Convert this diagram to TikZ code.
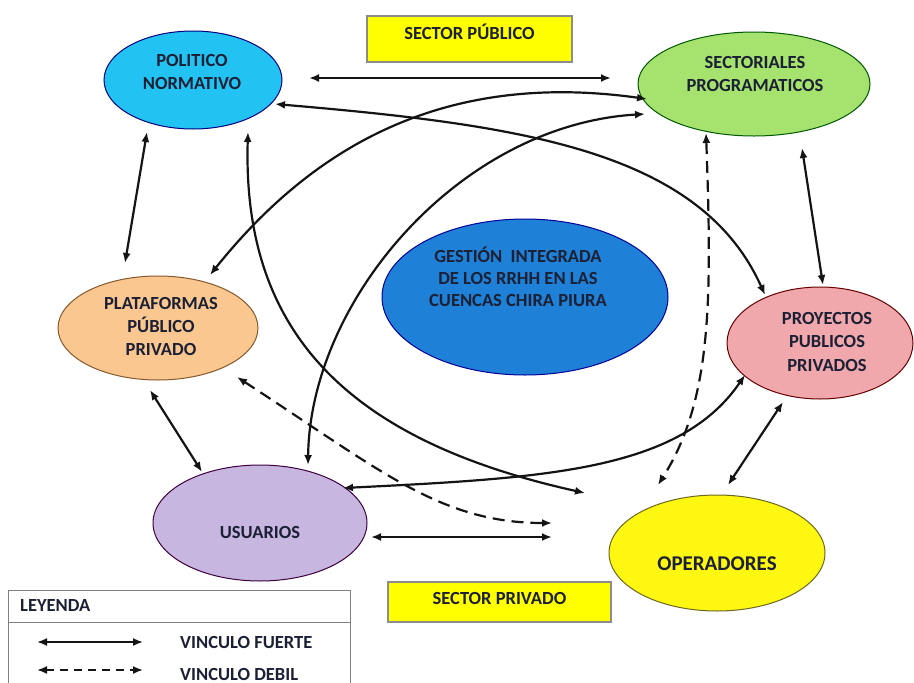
\documentclass[tikz,border=0pt]{standalone}
\usepackage{fontspec}
\setmainfont{Carlito}
\usetikzlibrary{shapes.geometric,arrows.meta}
\definecolor{txt}{RGB}{28,32,52}
\definecolor{cpol}{RGB}{34,195,243}
\definecolor{csec}{RGB}{166,226,110}
\definecolor{cpla}{RGB}{250,199,144}
\definecolor{cges}{RGB}{30,128,214}
\definecolor{cpro}{RGB}{240,168,172}
\definecolor{cusu}{RGB}{198,182,224}
\definecolor{cope}{RGB}{253,247,18}
\definecolor{cbox}{RGB}{255,255,0}
\definecolor{lnk}{RGB}{20,20,20}
\tikzset{
  x=1pt, y=-1pt,
  ell/.style={ellipse, draw, line width=1pt, inner sep=0pt},
  lbl/.style={text=txt, font=\fontsize{18.5}{23}\selectfont\bfseries, align=center, inner sep=0pt},
  secbox/.style={draw=black!45, line width=1.1pt, fill=cbox, inner sep=0pt},
  strong/.style={draw=lnk, line width=2.2pt, {Latex[length=10pt,width=8pt]}-{Latex[length=10pt,width=8pt]}},
  weak/.style={strong, dash pattern=on 12pt off 7pt},
}
\begin{document}
\begin{tikzpicture}
\useasboundingbox (0,0) rectangle (914,683);
\fill[white] (0,0) rectangle (914,683);

% boxes
\node[secbox, minimum width=205pt, minimum height=46pt] (spub) at (469.5,39) {};
\node[lbl] (spubt) at (469.5,32) {SECTOR PÚBLICO};
\node[secbox, minimum width=223pt, minimum height=40pt] (spri) at (499.5,602) {};
\node[lbl] (sprit) at (499.5,598) {SECTOR PRIVADO};

% ellipses
\node[ell, fill=cpol, draw=blue!50!black, minimum width=178pt, minimum height=98pt] (pol) at (193,80) {};
\node[lbl] (polt) at (192,71.5) {POLITICO\\NORMATIVO};
\node[ell, fill=csec, draw=green!35!black, minimum width=232pt, minimum height=104pt] (sec) at (754,84) {};
\node[lbl] (sect) at (755,73.5) {SECTORIALES\\PROGRAMATICOS};
\node[ell, fill=cpla, draw=brown!70!black, minimum width=200pt, minimum height=104pt] (pla) at (158,328) {};
\node[lbl] (plat) at (161,326) {PLATAFORMAS\\PÚBLICO\\PRIVADO};
\node[ell, fill=cges, draw=blue!60!black, minimum width=286pt, minimum height=156pt] (ges) at (525,297) {};
\node[lbl, font=\fontsize{18.5}{22}\selectfont\bfseries] (gest) at (518,277) {GESTIÓN\ \ INTEGRADA\\DE LOS RRHH EN LAS\\CUENCAS CHIRA PIURA};
\node[ell, fill=cpro, draw=red!40!black, minimum width=186pt, minimum height=112pt] (pro) at (820,343) {};
\node[lbl, font=\fontsize{18.5}{23.5}\selectfont\bfseries] (prot) at (827,341.5) {PROYECTOS\\PUBLICOS\\PRIVADOS};
\node[ell, fill=cusu, draw=violet!50!black, minimum width=214pt, minimum height=116pt] (usu) at (260,523) {};
\node[lbl] (usut) at (260,532) {USUARIOS};
\node[ell, fill=cope, draw=olive!70!black, minimum width=216pt, minimum height=116pt] (ope) at (717,553) {};
\node[lbl, font=\fontsize{21}{25}\selectfont\bfseries] (opet) at (717,564) {OPERADORES};

% straight strong links
\draw[strong] ([shift={(116,-2)}]pol.center) -- ([shift={(-143,-6)}]sec.center);
\draw[strong] ([shift={(-46,52)}]pol.center) -- ([shift={(-33,-65)}]pla.center);
\draw[strong] ([shift={(-8,62)}]pla.center) -- ([shift={(-58,-51)}]usu.center);
\draw[strong] ([shift={(48,64)}]sec.center) -- ([shift={(3,-58)}]pro.center);
\draw[strong] ([shift={(-37,59)}]pro.center) -- ([shift={(11,-68)}]ope.center);
\draw[strong] ([shift={(111,14)}]usu.center) -- ([shift={(-165,-16)}]ope.center);

% curved strong links
\draw[strong] ([shift={(82,24)}]pol.center) .. controls (520,125) and (700,150) .. ([shift={(-55,-48)}]pro.center);
\draw[strong] ([shift={(52,-53)}]pla.center) .. controls (310,150) and (440,70) .. ([shift={(-107,15)}]sec.center);
\draw[strong] ([shift={(48,-58)}]usu.center) .. controls (310,300) and (460,125) .. ([shift={(-109,30)}]sec.center);
\draw[strong] ([shift={(55,52)}]pol.center) .. controls (242,330) and (345,440) .. ([shift={(-132,-60)}]ope.center);
\draw[strong] ([shift={(83,-35)}]usu.center) .. controls (550,478) and (680,470) .. ([shift={(-75,32)}]pro.center);

% weak links
\draw[weak] ([shift={(-48,49)}]sec.center) .. controls (712,300) and (712,400) .. ([shift={(-59,-68)}]ope.center);
\draw[weak] ([shift={(79,49)}]pla.center) .. controls (380,470) and (440,523) .. ([shift={(-165,-30)}]ope.center);

% legend
\node[draw=black!50, line width=1pt, minimum width=342pt, minimum height=110pt, anchor=north west, inner sep=0pt] (leg) at (8,590) {};
\draw[black!50, line width=1pt] ([yshift=-32]leg.north west) -- ([yshift=-32]leg.north east);
\node[lbl, anchor=west] (legt) at (20,605) {LEYENDA};
\coordinate (l1a) at (37,642); \coordinate (l1b) at (143,642);
\coordinate (l2a) at (37,670); \coordinate (l2b) at (143,670);
\draw[strong, line width=1.8pt] (l1a) -- (l1b);
\draw[strong, line width=1.8pt, dash pattern=on 8pt off 6pt] (l2a) -- (l2b);
\node[lbl, anchor=west] (legf) at (180,642) {VINCULO FUERTE};
\node[lbl, anchor=west] (legd) at (180,674) {VINCULO DEBIL};
\end{tikzpicture}
\end{document}
